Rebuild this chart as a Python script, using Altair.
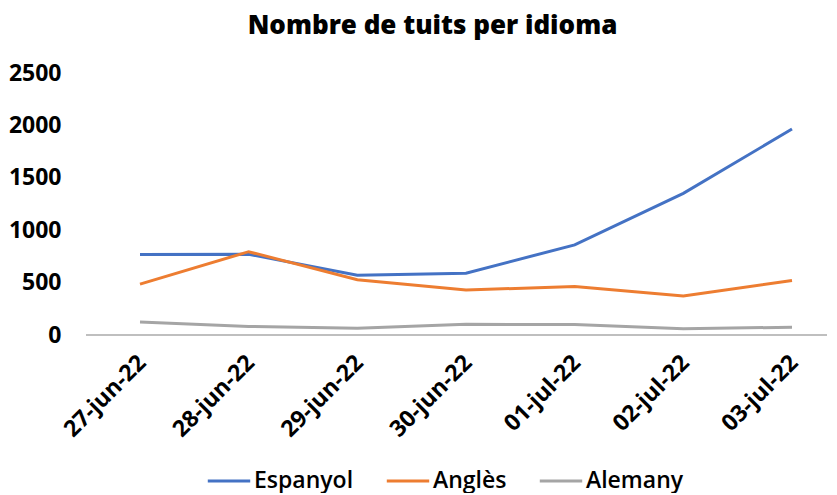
import altair as alt
import pandas as pd

dates = ["27-jun-22", "28-jun-22", "29-jun-22", "30-jun-22", "01-jul-22", "02-jul-22", "03-jul-22"]
espanyol = [768, 770, 570, 590, 860, 1352, 1965]
angles = [486, 795, 527, 430, 462, 372, 520]
alemany = [125, 82, 64, 102, 100, 60, 74]
series = ["Espanyol", "Anglès", "Alemany"]
colors = ["#4472C4", "#ED7D31", "#A5A5A5"]

rows = []
for name, vals in zip(series, [espanyol, angles, alemany]):
    for d, v in zip(dates, vals):
        rows.append({"Data": d, "Idioma": name, "Tuits": v})
df = pd.DataFrame(rows)

FONT = "Open Sans"

base = alt.Chart(df)

lines = base.mark_line(strokeWidth=3).encode(
    x=alt.X("Data:N", sort=dates, scale=alt.Scale(type="point", range=[54, 706], padding=0),
            axis=alt.Axis(title=None, labelAngle=-45, labelFontSize=23, labelFontWeight="bold",
                          labelFont=FONT, labelColor="#000000", ticks=False, domain=False,
                          labelPadding=16, labelOffset=-6, grid=False)),
    y=alt.Y("Tuits:Q", scale=alt.Scale(domain=[0, 2500], nice=False, zero=True),
            axis=alt.Axis(title=None, values=[0, 500, 1000, 1500, 2000, 2500], format="d",
                          labelFontSize=23, labelFontWeight="bold", labelFont=FONT,
                          labelColor="#000000", ticks=False, domain=False, grid=False,
                          labelPadding=25, labelFlush=False, labelBaseline="middle")),
    color=alt.Color("Idioma:N", sort=series,
                    scale=alt.Scale(domain=series, range=colors),
                    legend=alt.Legend(title=None, orient="none", direction="horizontal",
                                      legendX=120, legendY=385,
                                      symbolType="stroke", symbolStrokeWidth=3, symbolSize=1800,
                                      labelFontSize=23, labelFont=FONT, labelFontWeight=600,
                                      labelColor="#000000", columnPadding=26, labelOffset=2)),
)

baseline = base.mark_rule(color="#BFBFBF", strokeWidth=1.5).encode(
    y=alt.datum(0)
)

chart = alt.layer(lines, baseline).properties(
    width=741,
    height=262,
    background="white",
    padding={"left": 0, "right": 0, "top": 5, "bottom": 0},
    title=alt.TitleParams("Nombre de tuits per idioma", font=FONT, fontSize=26, fontWeight=800,
                          color="#000000", anchor="middle", offset=23, dx=-24),
).configure_view(stroke="transparent", strokeWidth=0).configure_axis(
    domain=False, grid=False
)

chart.save("out.html", embed_options={"renderer": "svg", "actions": False})
